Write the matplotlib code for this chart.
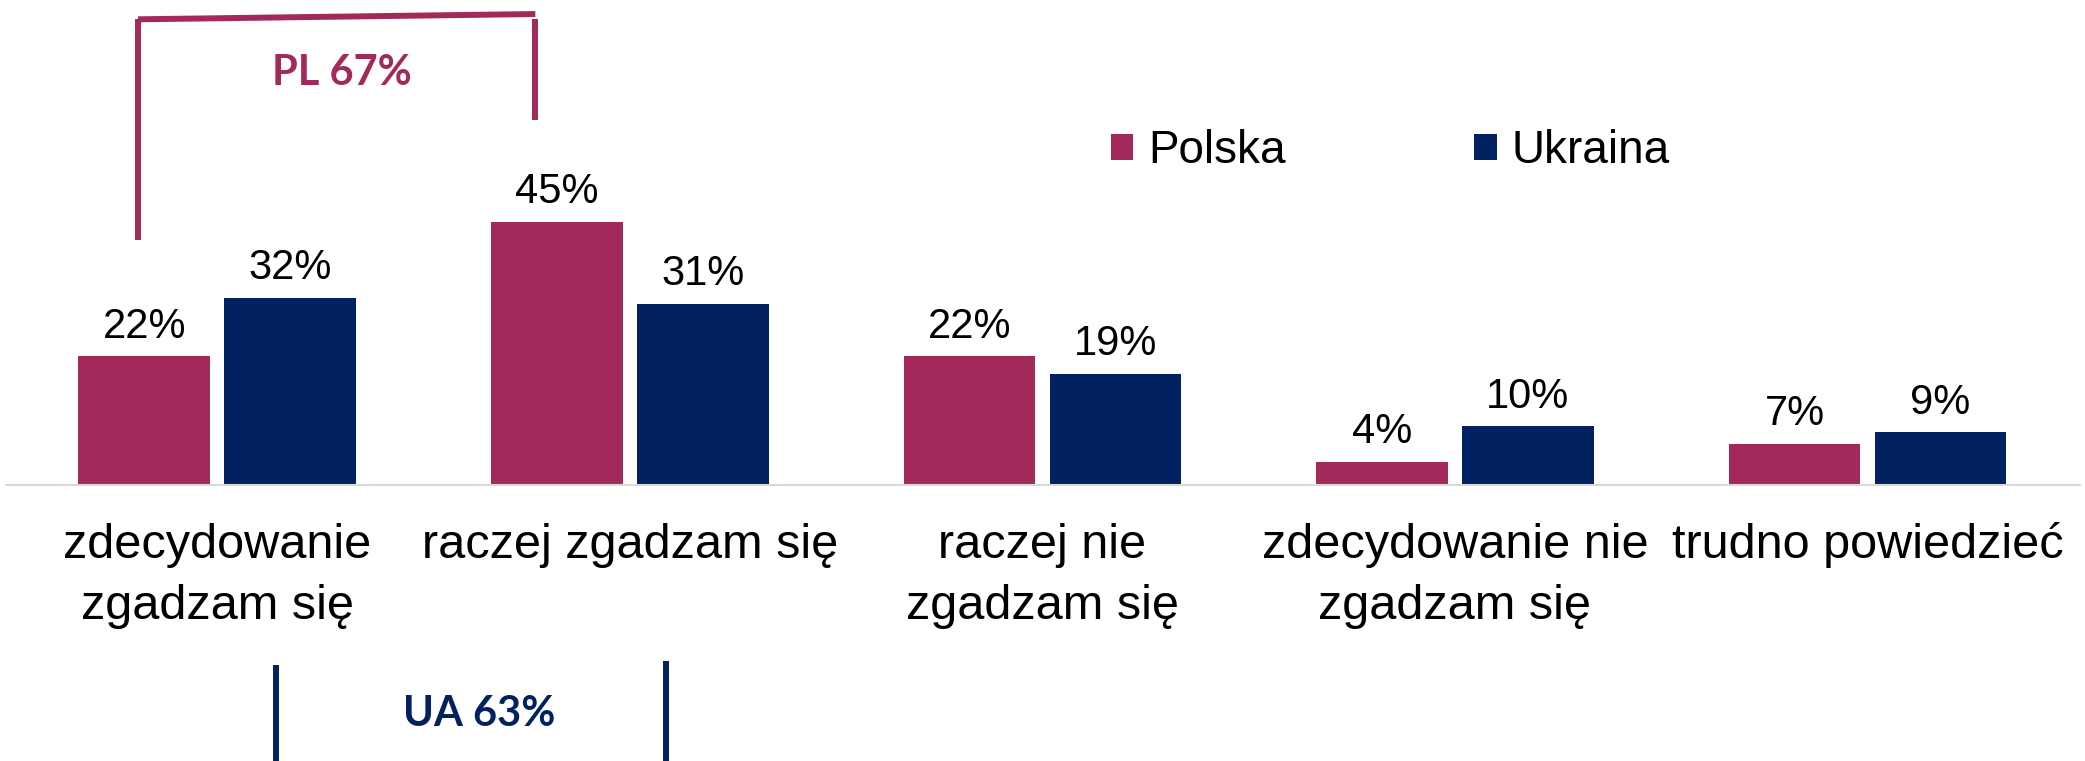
import matplotlib
matplotlib.use("Agg")
import matplotlib.pyplot as plt
import numpy as np

categories = ["zdecydowanie\nzgadzam się", "raczej zgadzam się", "raczej nie\nzgadzam się",
              "zdecydowanie nie\nzgadzam się", "trudno powiedzieć"]
polska = [22, 45, 22, 4, 7]
ukraina = [32, 31, 19, 10, 9]
series_names = ["Polska", "Ukraina"]

C_PL = "#A2295A"
C_UA = "#022160"

W, H = 2085, 761
fig = plt.figure(figsize=(W / 100, H / 100), dpi=100)
plt.rcParams['font.family'] = ['Liberation Sans', 'DejaVu Sans']

ax = fig.add_axes([6 / W, 1 - 485 / H, (2080 - 6) / W, 485 / H])
x = np.arange(len(categories))
bw = 0.319
off = 0.177
b1 = ax.bar(x - off, polska, bw, color=C_PL, label=series_names[0])
b2 = ax.bar(x + off, ukraina, bw, color=C_UA, label=series_names[1])
ax.bar_label(b1, labels=[f"{v}%" for v in polska], padding=7, fontsize=30)
ax.bar_label(b2, labels=[f"{v}%" for v in ukraina], padding=7, fontsize=30)

ax.set_xlim(-0.512, 4.515)
ax.set_ylim(0, 82.9)
ax.set_xticks(x)
ax.set_xticklabels(categories, fontsize=35, linespacing=1.46)
ax.tick_params(axis='x', length=0, pad=27)
ax.set_yticks([])
for s in ["top", "left", "right"]:
    ax.spines[s].set_visible(False)
ax.spines["bottom"].set_color("#D9D9D9")
ax.spines["bottom"].set_linewidth(1.5)

leg = ax.legend(loc="center left", bbox_to_anchor=(1111 / W, 1 - 151 / H),
                bbox_transform=fig.transFigure, ncol=2, frameon=False, fontsize=33,
                handlelength=0.49, handleheight=0.49, handletextpad=0.33,
                columnspacing=4.1, borderpad=0, borderaxespad=0)

# bracket annotations (PL top, UA bottom)
lw = 4.3
ax.plot([-0.192, 0.771], [79.6, 80.5], color=C_PL, lw=lw, clip_on=False, solid_capstyle='butt')
ax.plot([-0.192, -0.192], [79.6, 41.9], color=C_PL, lw=lw, clip_on=False, solid_capstyle='butt')
ax.plot([0.771, 0.771], [79.6, 62.4], color=C_PL, lw=lw, clip_on=False, solid_capstyle='butt')
ax.text(0.303, 70.5, f"PL {polska[0] + polska[1]}%", color=C_PL, fontsize=30,
        fontweight='bold', family=['Lato', 'DejaVu Sans'], ha='center', va='center')

ax.plot([0.143, 0.143], [-30.8, -47.5], color=C_UA, lw=lw, clip_on=False, solid_capstyle='butt')
ax.plot([1.087, 1.087], [-30.0, -47.5], color=C_UA, lw=lw, clip_on=False, solid_capstyle='butt')
ax.plot([0.143, 1.087], [-47.6, -47.6], color="#7F8FB0", lw=1.5, clip_on=False)
ax.text(0.634, -39.1, f"UA {ukraina[0] + ukraina[1]}%", color=C_UA, fontsize=30,
        fontweight='bold', family=['Lato', 'DejaVu Sans'], ha='center', va='center')

fig.savefig("out.png", dpi=100)
